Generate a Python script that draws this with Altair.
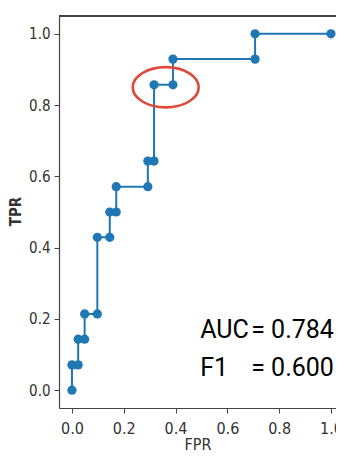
import altair as alt
import pandas as pd

# ROC curve points
fpr = [0.0, 0.0, 0.024, 0.024, 0.049, 0.049, 0.098, 0.098, 0.146, 0.146, 0.171,
       0.171, 0.293, 0.293, 0.317, 0.317, 0.390, 0.390, 0.707, 0.707, 1.0]
tpr = [0.0, 0.071, 0.071, 0.143, 0.143, 0.214, 0.214, 0.429, 0.429, 0.5, 0.5,
       0.571, 0.571, 0.643, 0.643, 0.857, 0.857, 0.929, 0.929, 1.0, 1.0]

x_ticks = [0.0, 0.2, 0.4, 0.6, 0.8, 1.0]
y_ticks = [0.0, 0.2, 0.4, 0.6, 0.8, 1.0]

# Annotation (red ellipse) centre in data coordinates
ellipse_x = [0.362]
ellipse_y = [0.850]

# Score text
label_left = ["AUC", "F1"]
label_right = ["= 0.784", "= 0.600"]
label_y = [0.146, 0.040]
label_x_left = [0.495, 0.495]
label_x_right = [0.692, 0.692]

TICKFONT = "DejaVu Sans Condensed"
BIGFONT = "Roboto"
BLUE = "#1f77b4"

df = pd.DataFrame({"fpr": fpr, "tpr": tpr, "order": list(range(len(fpr)))})
ell = pd.DataFrame({"x": ellipse_x, "y": ellipse_y})
txt = pd.DataFrame({"l": label_left, "r": label_right, "y": label_y,
                    "xl": label_x_left, "xr": label_x_right})

xscale = alt.Scale(domain=[-0.05, 1.0195], nice=False, zero=False)
yscale = alt.Scale(domain=[-0.05, 1.05], nice=False, zero=False)

xaxis = alt.Axis(values=x_ticks, format=".1f", title="FPR", grid=False,
                 labelFont=TICKFONT, labelFontSize=16, labelColor="#333",
                 titleFont=TICKFONT, titleFontSize=16, titleFontWeight="normal",
                 titleColor="#333", tickSize=5, tickColor="#444",
                 domainColor="#444", domainWidth=1.2, labelPadding=7,
                 titleBaseline="alphabetic", titleY=41)
yaxis = alt.Axis(values=y_ticks, format=".1f", title="TPR", grid=False,
                 labelFont=TICKFONT, labelFontSize=15, labelColor="#333",
                 titleFont=TICKFONT, titleFontSize=15, titleFontWeight="bold",
                 titleColor="#333", tickSize=5, tickColor="#444",
                 domainColor="#444", domainWidth=1.2, labelPadding=4,
                 titleX=-36, titleY=195)

base = alt.Chart(df)
line = base.mark_line(color=BLUE, strokeWidth=2).encode(
    x=alt.X("fpr:Q", scale=xscale, axis=xaxis),
    y=alt.Y("tpr:Q", scale=yscale, axis=yaxis),
    order="order:Q",
)
pts = base.mark_circle(color=BLUE, size=85, opacity=1).encode(
    x=alt.X("fpr:Q", scale=xscale),
    y=alt.Y("tpr:Q", scale=yscale),
)

ellipse = alt.Chart(ell).mark_point(
    shape="M -1 0 A 1 0.61 0 1 0 1 0 A 1 0.61 0 1 0 -1 0 Z",
    size=4356, filled=False, stroke="#e0483a", strokeWidth=2.6, opacity=1,
).encode(x=alt.X("x:Q", scale=xscale), y=alt.Y("y:Q", scale=yscale))

tleft = alt.Chart(txt).mark_text(font=BIGFONT, fontSize=25, align="left",
                                 baseline="alphabetic", color="black").encode(
    x=alt.X("xl:Q", scale=xscale), y=alt.Y("y:Q", scale=yscale), text="l:N")
tright = alt.Chart(txt).mark_text(font=BIGFONT, fontSize=25, align="left",
                                  baseline="alphabetic", color="black").encode(
    x=alt.X("xr:Q", scale=xscale), y=alt.Y("y:Q", scale=yscale), text="r:N")

top_border = alt.Chart(df).mark_rule(color="#444", strokeWidth=1.2).encode(
    x=alt.value(0), x2=alt.value(277), y=alt.value(0))

chart = alt.layer(line, pts, ellipse, tleft, tright, top_border).properties(
    width=277, height=392,
    autosize=alt.AutoSizeParams(type="none"),
    padding={"left": 51, "top": 8, "right": 0, "bottom": 44},
).configure_view(stroke=None).configure(background="white")

chart.save("out.html", embed_options={"renderer": "svg", "actions": False})
